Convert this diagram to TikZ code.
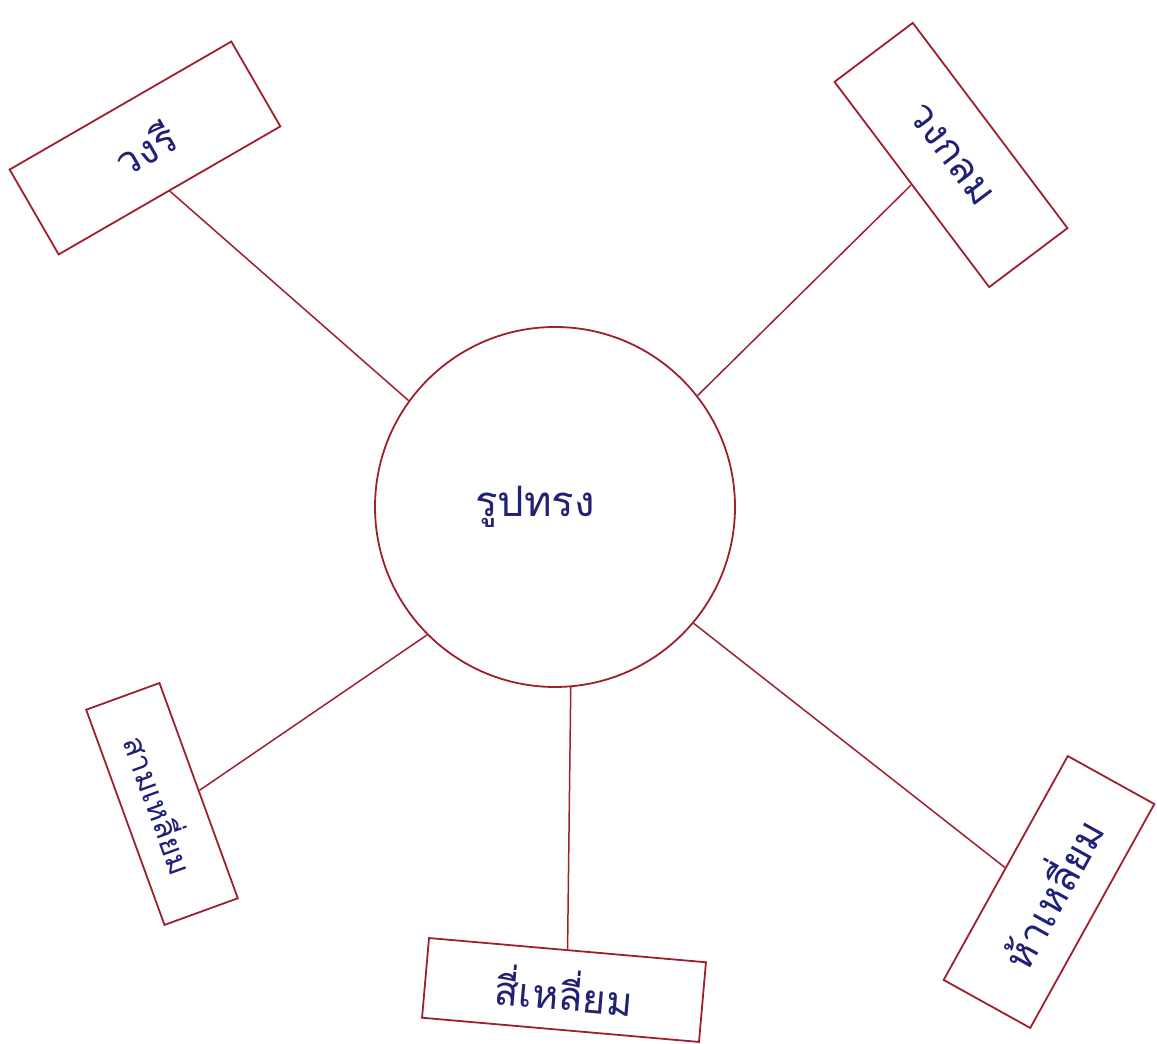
\documentclass[tikz,border=0pt]{standalone}
\usepackage{fontspec}
\usepackage{xcolor}
\usepackage{tikz}
\usetikzlibrary{positioning}
\newfontfamily\thaifont[Script=Thai]{Loma}
\definecolor{penred}{rgb}{0.62,0.12,0.18}
\definecolor{inkblue}{rgb}{0.12,0.13,0.45}

\begin{document}
\begin{tikzpicture}[x=1pt,y=1pt,
  shapebox/.style={draw=penred, line width=1.8pt, rectangle, inner sep=0pt,
    text=inkblue, font=\thaifont\fontsize{40}{44}\selectfont},
  hub/.style={draw=penred, line width=1.8pt, circle, minimum size=360pt, inner sep=0pt,
    text=inkblue, font=\thaifont\fontsize{42}{46}\selectfont}]
\useasboundingbox (0,0) rectangle (1157,1044);
\node[hub] (c) at (555,537) {\raisebox{6pt}{\hspace*{-40pt}รูปทรง}};
\node[shapebox, minimum width=256pt, minimum height=98pt, rotate=30] (vr) at (145,896) {วงรี};
\node[shapebox, minimum width=257pt, minimum height=98pt, rotate=-53] (vk) at (951,889) {วงกลม};
\node[shapebox, minimum width=229pt, minimum height=78pt, rotate=-70,
  font=\thaifont\fontsize{31}{34}\selectfont] (sm) at (162,240) {สามเหลี่ยม};
\node[shapebox, minimum width=278pt, minimum height=80pt, rotate=-5] (sl) at (564,54) {สี่เหลี่ยม};
\node[shapebox, minimum width=256pt, minimum height=99pt, rotate=61] (hl) at (1049,152) {ห้าเหลี่ยม};
% spokes from the hub out to each box
\foreach \b/\p/\a in {vr/south/144, vk/south/38, sm/north/225, sl/north/275, hl/north/320}
  \draw[penred, line width=1.5pt] (c.\a) -- (\b.\p);
\end{tikzpicture}
\end{document}
